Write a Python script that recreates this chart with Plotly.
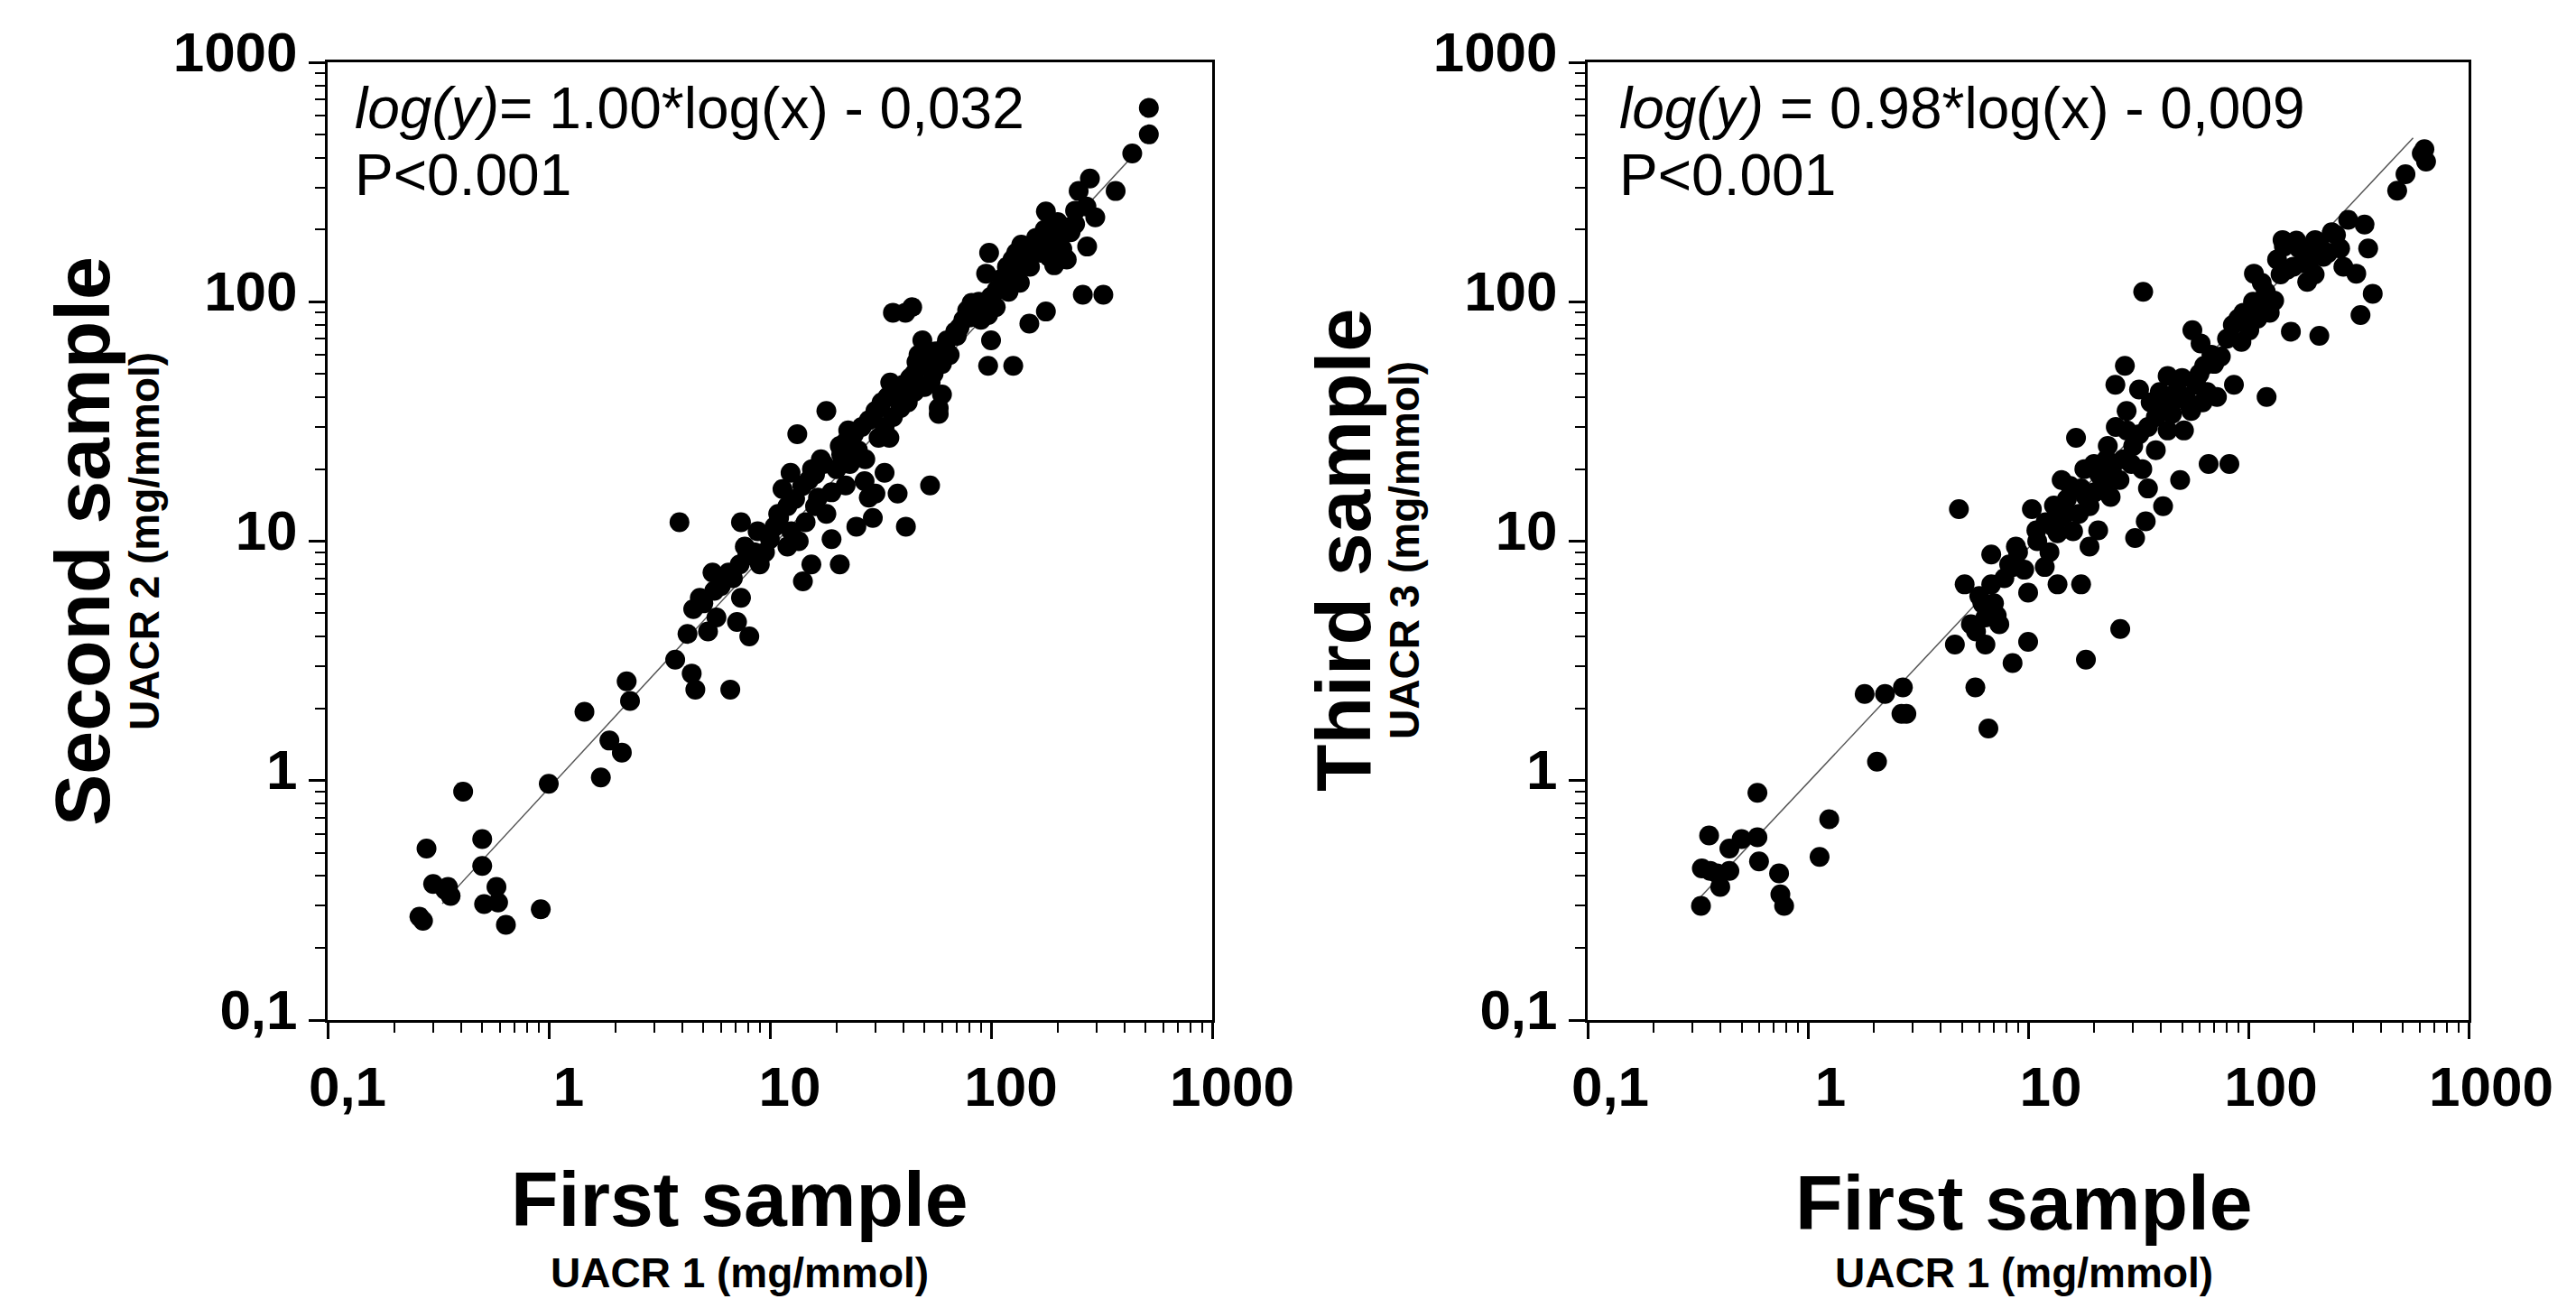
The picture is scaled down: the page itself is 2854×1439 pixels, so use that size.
import math
import plotly.graph_objects as go

# first sample vs second sample (UACR, mg/mmol)
x_second = [0.27, 0.26, 0.28, 0.30, 0.34, 0.36, 0.35, 0.41, 0.50, 0.50, 0.51, 0.58, 0.59, 0.64, 0.92,
            1.0, 1.45, 1.72, 1.88, 2.14, 2.25, 2.33,
            3.73, 3.9, 4.24, 4.43, 4.6, 4.82, 5.25, 5.5, 5.73, 6.62, 7.1, 7.4, 8.07, 6.5, 7.3, 7.9, 7.4,
            8.8, 10, 10.9, 11.4, 12.4, 13.3, 14.1, 15.4, 16, 16.5, 17.5, 19, 18, 20.7, 20.7, 22.6, 22,
            24.6, 26.8, 28, 29.2, 30, 33, 34.7, 35, 37.8, 41.2, 36, 41, 44, 48.9, 53, 44.9, 48.9, 53.3,
            58, 60, 63.2, 68.9, 75, 80, 81.7, 97, 97, 100, 106, 95, 98,
            126, 149, 177, 115, 130, 137, 162, 177, 183, 193, 210, 220, 229, 240, 249, 260, 296, 272,
            280, 322, 366, 435, 517, 517,
            9.5, 10.5, 11, 12, 12.5, 13, 14, 14.5, 15, 15.5, 16, 13.5, 12, 17, 18, 19, 20, 21, 22, 23,
            24, 25, 26, 27, 28, 30, 31, 32, 33, 34, 36, 38, 39, 40, 42, 43, 45, 46, 47, 50, 52, 55, 56,
            58, 60, 62, 65, 70, 72, 78, 85, 88, 90, 100, 105, 110, 112, 118, 120, 125, 130, 135, 140,
            145, 150, 155, 160, 170, 175, 185, 190, 200, 210, 225, 240, 270,
            5, 5.6, 6, 6.8, 7.7, 8.5, 9, 4.5]
y_second = [0.26, 0.27, 0.52, 0.37, 0.35, 0.33, 0.36, 0.90, 0.57, 0.44, 0.305, 0.36, 0.31, 0.25, 0.29,
            0.97, 1.94, 1.03, 1.47, 1.31, 2.6, 2.15,
            3.2, 12.0, 4.1, 2.8, 2.4, 5.8, 4.2, 7.4, 4.8, 2.4, 4.6, 5.8, 4.0, 7.4, 8.0, 8.7, 12.0,
            11.0, 10.2, 13.0, 16.5, 19.3, 28, 6.8, 8.0, 14, 15.2, 21, 10.2, 35, 8.0, 25, 29, 17.1,
            11.5, 17.8, 15.2, 12.5, 15.8, 19.3, 27, 46, 15.8, 11.5, 90, 90, 95, 69, 17.1, 50, 54, 46,
            34, 41, 69, 75, 84, 86, 99, 88, 54, 69, 112, 131, 160,
            54, 81, 91, 121, 131, 173, 166, 238, 154, 142, 166, 150, 195, 211, 290, 107, 225, 170,
            327, 107, 290, 416, 645, 500,
            9.0, 11.5, 12.5, 14, 11, 15, 17, 12, 18, 20, 19, 10, 9.5, 22, 13, 16, 20, 23, 26, 21,
            28, 24, 30, 22, 32, 35, 27, 38, 30, 40, 33, 42, 36, 45, 38, 48, 42, 56, 60, 44, 58, 50, 62,
            36, 55, 65, 60, 72, 78, 92, 95, 100, 84, 105, 95, 115, 125, 140, 110, 150, 160, 120, 145,
            170, 140, 165, 185, 160, 200, 195, 175, 215, 190, 205, 240, 250,
            5.5, 6.2, 6.5, 7.0, 9.5, 9.0, 8.0, 5.2]

# first sample vs third sample
x_third = [0.327, 0.33, 0.356, 0.36, 0.387, 0.40, 0.44, 0.44, 0.50, 0.59, 0.59, 0.60, 0.74, 0.75, 0.78,
           1.13, 1.25, 1.81, 2.06, 2.24, 2.7, 2.66, 2.8,
           4.65, 4.85, 5.15, 5.5, 5.76, 6.0, 6.4, 6.4, 6.6, 6.8, 6.8, 7.2, 7.4, 8.5, 8.5, 8.8, 9.6,
           10, 10, 10.4, 10.9, 11.9, 13.1, 13.6, 13.6, 14.2, 14.9, 16.5, 17.4, 17.4, 18.3, 18.3, 19,
           19.9, 20.8, 21.7, 22.7, 23.7, 24.9, 26.2, 27.5, 28.1, 29.4, 30.6, 31.9, 33.3, 34.2, 35, 38,
           39.6, 41, 43, 43, 45, 49, 51, 54, 55.7, 60.7, 63, 66, 72, 75, 82, 86, 93, 101, 106, 111,
           121, 131, 143, 150, 156, 170, 185, 201, 210, 219, 239, 261, 284, 309, 323, 337, 367, 350,
           474, 517, 613, 641, 630,
           11, 12, 12.5, 13, 14, 15, 15.5, 16, 17, 18, 19, 20, 21, 22, 23, 24, 25, 26, 27, 28, 30,
           32, 33, 35, 36, 38, 40, 42, 45, 47, 50, 52, 55, 58, 60, 62, 65, 68, 70, 80, 85, 90, 95,
           100, 105, 110, 115, 120, 125, 135, 140, 145, 160, 165, 175, 180, 190, 200, 210, 230, 250,
           270,
           7.8, 8.2, 9, 6.2, 5.8, 7]
y_third = [0.30, 0.43, 0.59, 0.42, 0.41, 0.36, 0.42, 0.52, 0.57, 0.89, 0.58, 0.46, 0.41, 0.335, 0.30,
           0.48, 0.69, 2.3, 1.2, 2.3, 2.45, 1.9, 1.9,
           3.7, 13.6, 6.6, 4.5, 2.45, 5.9, 3.7, 4.8, 1.65, 8.8, 6.6, 4.9, 4.5, 3.1, 7.8, 9.5, 7.6,
           6.1, 3.8, 13.6, 11.1, 7.8, 14.1, 10.8, 6.6, 18, 13.1, 27, 6.6, 16.6, 15.3, 3.2, 9.5,
           21, 11.1, 18, 22, 15.3, 45, 4.3, 54, 29, 21, 10.3, 43, 110, 12.1, 16.6, 24,
           42, 14, 49, 29, 34, 18, 29, 37, 76, 67, 54, 21, 40, 59, 21, 45, 68, 76, 131, 95,
           40, 101, 181, 136, 75, 167, 121, 181, 72, 154, 195, 167, 220, 131, 88, 210, 108, 167,
           291, 341, 416, 385, 434,
           10, 12, 9, 11.5, 12.5, 15, 17, 11, 13, 20, 14, 16, 19, 17, 25, 20, 30, 18, 22, 35, 25,
           28, 20, 30, 38, 33, 35, 40, 38, 42, 48, 40, 35, 45, 50, 38, 42, 60, 55, 70, 80, 85, 90,
           80, 100, 85, 120, 110, 90, 150, 130, 170, 140, 180, 145, 160, 150, 130, 175, 160, 190,
           140,
           7.0, 8.0, 9, 5.5, 4.2, 5.5]

# regression lines as printed on the chart
slope_second, intercept_second = 1.00, -0.032
slope_third, intercept_third = 0.98, -0.009
line_x_second = [0.33, 470]
line_x_third = [0.31, 560]

tick_vals = [0.1, 1, 10, 100, 1000]
tick_text = ["0,1", "1", "10", "100", "1000"]

W, H = 2854, 1439
FONT = "Liberation Sans, Arial, sans-serif"


def fit(xs, a, b):
    return [10 ** (a * math.log10(v) + b) for v in xs]


fig = go.Figure()

fig.add_trace(go.Scatter(x=line_x_second, y=fit(line_x_second, slope_second, intercept_second),
                         mode="lines", line=dict(color="#555555", width=1.5),
                         xaxis="x", yaxis="y", showlegend=False))
fig.add_trace(go.Scatter(x=x_second, y=y_second, mode="markers",
                         marker=dict(color="black", size=22),
                         xaxis="x", yaxis="y", showlegend=False))
fig.add_trace(go.Scatter(x=line_x_third, y=fit(line_x_third, slope_third, intercept_third),
                         mode="lines", line=dict(color="#555555", width=1.5),
                         xaxis="x2", yaxis="y2", showlegend=False))
fig.add_trace(go.Scatter(x=x_third, y=y_third, mode="markers",
                         marker=dict(color="black", size=22),
                         xaxis="x2", yaxis="y2", showlegend=False))

tickfont = dict(family=FONT, size=62, color="black", weight="bold")
common = dict(type="log", range=[-1, 3], tickvals=tick_vals, ticktext=tick_text,
              showline=True, linecolor="black", linewidth=3, mirror=True,
              ticks="outside", ticklen=18, tickwidth=3, tickcolor="black",
              showgrid=False, zeroline=False, tickfont=tickfont, automargin=False,
              minor=dict(ticks="outside", ticklen=11, tickwidth=2, tickcolor="black",
                         dtick="D1", showgrid=False))

ytop = 1 - 69 / H
ybot = 1 - 1130 / H

fig.update_layout(
    width=W, height=H,
    margin=dict(l=0, r=0, t=0, b=0, autoexpand=False),
    paper_bgcolor="white", plot_bgcolor="white",
    xaxis=dict(domain=[363 / W, 1343 / W], anchor="y", ticklabelshift=22, **common),
    yaxis=dict(domain=[ybot, ytop], anchor="x", ticklabelshift=-12, **common),
    xaxis2=dict(domain=[1759 / W, 2735 / W], anchor="y2", ticklabelshift=25, **common),
    yaxis2=dict(domain=[ybot, ytop], anchor="x2", ticklabelshift=-12, **common),
)


def label(text, px, py, size, bold=True, angle=0, anchor="center"):
    fig.add_annotation(text=text, x=px / W, y=1 - py / H, xref="paper", yref="paper",
                       showarrow=False, textangle=angle, xanchor=anchor, yanchor="middle",
                       font=dict(family=FONT, size=size, color="black",
                                 weight="bold" if bold else "normal"))


# axis titles
label("Second sample", 91, 600, 86, angle=-90)
label("UACR 2 (mg/mmol)", 160, 600, 46, angle=-90)
label("First sample", 820, 1328, 86)
label("UACR 1 (mg/mmol)", 819, 1410, 46)

label("Third sample", 1488, 610, 86, angle=-90)
label("UACR 3 (mg/mmol)", 1556, 610, 46, angle=-90)
label("First sample", 2242, 1332, 86)
label("UACR 1 (mg/mmol)", 2242, 1410, 46)

# equations
label("<i>log(y)</i>= 1.00*log(x) - 0,032", 391, 120, 64, bold=False, anchor="left")
label("P<0.001", 391, 194, 64, bold=False, anchor="left")
label("<i>log(y)</i> = 0.98*log(x) - 0,009", 1792, 120, 64, bold=False, anchor="left")
label("P<0.001", 1792, 194, 64, bold=False, anchor="left")

# page body has an 8px default margin; drop it so the figure fills the window
fig.write_html("out.html", config={"displayModeBar": False},
               post_script="document.body.style.margin='0';")
